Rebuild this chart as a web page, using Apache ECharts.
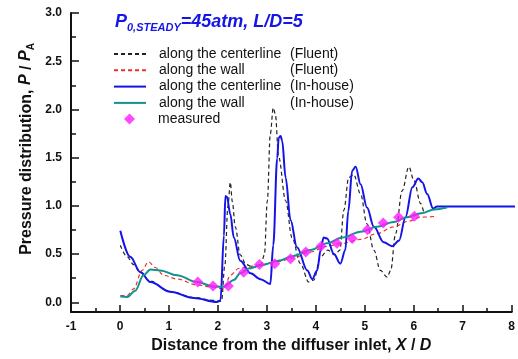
<!DOCTYPE html>
<html>
<head>
<meta charset="utf-8">
<script src="https://cdn.jsdelivr.net/npm/echarts@6/dist/echarts.min.js"></script>
<style>
  html, body { margin: 0; padding: 0; background: #fff; }
  .layer { position: absolute; left: 0; top: 0; width: 518px; height: 359px; }
  #axes { z-index: 2; }
  #app { z-index: 1; }
</style>
</head>
<body>
<div id="app" class="layer"></div>
<div id="axes" class="layer"></div>
<script>
// 中心线 (Fluent)
const centerFluentX = [0, 0.14, 0.27, 0.4, 0.6, 1.0, 1.5, 1.9, 2.05, 2.12, 2.18, 2.23, 2.27, 2.33, 2.43, 2.55, 2.7, 2.85, 2.92, 2.98, 3.04, 3.1, 3.14, 3.21, 3.35, 3.48, 3.65, 3.82, 3.92, 4.06, 4.2, 4.35, 4.45, 4.53, 4.63, 4.73, 4.87, 5.0, 5.14, 5.27, 5.41, 5.48, 5.58, 5.71, 5.85, 5.95, 6.09, 6.15];
const centerFluentY = [0.6, 0.48, 0.4, 0.32, 0.23, 0.12, 0.06, 0.03, 0.02, 0.4, 1.0, 1.25, 1.05, 0.79, 0.5, 0.4, 0.37, 0.4, 0.5, 1.06, 1.75, 2.02, 1.96, 1.51, 1.06, 0.68, 0.41, 0.22, 0.24, 0.48, 0.55, 0.5, 0.55, 0.96, 1.3, 1.33, 1.13, 0.82, 0.55, 0.34, 0.27, 0.34, 0.72, 1.16, 1.41, 1.27, 1.03, 0.94];
// 壁面 (Fluent)
const wallFluentX = [0, 0.14, 0.27, 0.44, 0.57, 0.71, 0.88, 1.15, 1.55, 1.83, 2.1, 2.23, 2.4, 2.6, 2.84, 3.2, 3.51, 3.85, 4.19, 4.5, 4.87, 5.2, 5.54, 5.85, 6.09, 6.42];
const wallFluentY = [0.08, 0.08, 0.15, 0.34, 0.43, 0.37, 0.29, 0.25, 0.19, 0.17, 0.15, 0.29, 0.36, 0.38, 0.4, 0.43, 0.47, 0.53, 0.59, 0.62, 0.66, 0.72, 0.79, 0.85, 0.89, 0.9];
// 中心线 (In-house)
const centerHouseX = [0, 0.2, 0.41, 0.61, 1.01, 1.49, 1.96, 2.03, 2.1, 2.13, 2.16, 2.23, 2.3, 2.43, 2.64, 2.84, 3.04, 3.1, 3.18, 3.21, 3.25, 3.28, 3.35, 3.45, 3.58, 3.79, 3.89, 3.99, 4.06, 4.12, 4.19, 4.33, 4.46, 4.56, 4.62, 4.7, 4.77, 4.87, 5.0, 5.14, 5.34, 5.51, 5.65, 5.78, 5.92, 6.04, 6.12, 6.22, 6.34, 6.42, 7.0, 8.0];
const centerHouseY = [0.75, 0.48, 0.32, 0.22, 0.12, 0.055, 0.013, 0.03, 0.7, 1.11, 1.1, 0.92, 0.68, 0.44, 0.31, 0.25, 0.2, 0.6, 1.5, 1.71, 1.73, 1.68, 1.3, 0.86, 0.58, 0.34, 0.25, 0.34, 0.55, 0.68, 0.67, 0.51, 0.41, 0.55, 0.95, 1.37, 1.41, 1.23, 0.99, 0.79, 0.63, 0.59, 0.65, 0.89, 1.2, 1.29, 1.25, 1.13, 0.98, 1.0, 1.0, 1.0];
// 壁面 (In-house)
const wallHouseX = [0, 0.14, 0.3, 0.47, 0.61, 0.81, 1.15, 1.55, 1.89, 2.1, 2.3, 2.43, 2.6, 2.84, 3.2, 3.51, 3.85, 4.19, 4.5, 4.87, 5.2, 5.54, 5.81, 6.1, 6.36, 6.62];
const wallHouseY = [0.07, 0.065, 0.13, 0.29, 0.35, 0.34, 0.29, 0.22, 0.175, 0.17, 0.24, 0.31, 0.36, 0.39, 0.44, 0.49, 0.55, 0.62, 0.68, 0.74, 0.79, 0.84, 0.89, 0.93, 0.97, 0.99];
// 实测
const measuredX = [1.57, 1.88, 2.19, 2.5, 2.82, 3.13, 3.45, 3.76, 4.07, 4.39, 4.7, 5.01, 5.33, 5.64, 5.96];
const measuredY = [0.22, 0.18, 0.18, 0.32, 0.4, 0.41, 0.46, 0.53, 0.59, 0.62, 0.67, 0.76, 0.83, 0.89, 0.9];

const seriesNames = [
  'along the centerline (Fluent)',
  'along the wall (Fluent)',
  'along the centerline (In-house)',
  'along the wall (In-house)',
  'measured'
];

const xRange = { min: -1, max: 8 };
const yRange = { min: -0.1, max: 3 };
const grid = { left: 71, right: 3, top: 13, bottom: 46 };
const font = 'Liberation Sans, Arial, sans-serif';

function pairs(xs, ys) {
  return xs.map((x, i) => [x, ys[i]]);
}

function lineSeries(name, xs, ys, color, width, dashed) {
  return {
    name,
    type: 'line',
    data: pairs(xs, ys),
    symbol: 'none',
    smooth: 0.35,
    smoothMonotone: 'x',
    lineStyle: { color, width, type: dashed ? [4, 3] : 'solid' },
    itemStyle: { color },
    silent: true
  };
}

/**
 * 下层：曲线、实测点、图例、标题
 */
const myChart = echarts.init(document.getElementById('app'));
myChart.setOption({
  animation: false,
  grid,
  legend: [
    {
      orient: 'vertical',
      left: 113,
      top: 47,
      padding: 0,
      itemWidth: 32,
      itemHeight: 11,
      itemGap: 2.3,
      data: seriesNames.slice(0, 4).map(name => ({ name, itemStyle: { opacity: 0 } })),
      formatter: name => {
        const k = name.indexOf(' (');
        return '{a|' + name.slice(0, k) + '}{b|' + name.slice(k + 1) + '}';
      },
      textStyle: {
        fontFamily: font,
        fontSize: 14,
        color: '#111',
        lineHeight: 14,
        padding: [0, 0, 0, 8],
        rich: {
          a: { fontFamily: font, fontSize: 14, width: 131, color: '#111' },
          b: { fontFamily: font, fontSize: 14, color: '#111' }
        }
      }
    },
    {
      orient: 'vertical',
      left: 124,
      top: 112,
      padding: 0,
      itemWidth: 11,
      itemHeight: 11,
      data: [{ name: seriesNames[4], icon: 'diamond' }],
      textStyle: { fontFamily: font, fontSize: 14, color: '#111', lineHeight: 14, padding: [0, 0, 0, 18] }
    }
  ],
  xAxis: { type: 'value', show: false, min: xRange.min, max: xRange.max },
  yAxis: { type: 'value', show: false, min: yRange.min, max: yRange.max },
  graphic: [
    {
      type: 'text',
      left: 115,
      top: 13,
      style: {
        text: '{p|P}{s|0,STEADY}{t|=45atm, L/D=5}',
        rich: {
          p: { fontFamily: font, fontSize: 18, fontWeight: 'bold', fontStyle: 'italic', fill: '#1515e6', lineHeight: 20, verticalAlign: 'top' },
          s: { fontFamily: font, fontSize: 11, fontWeight: 'bold', fontStyle: 'italic', fill: '#1515e6', lineHeight: 12, verticalAlign: 'bottom' },
          t: { fontFamily: font, fontSize: 18, fontWeight: 'bold', fontStyle: 'italic', fill: '#1515e6', lineHeight: 20, verticalAlign: 'top' }
        }
      }
    },
    {
      type: 'text',
      x: 27,
      y: 149,
      rotation: Math.PI / 2,
      style: {
        text: 'Pressure distribution, {i|P} / {i|P}{s|A}',
        align: 'center',
        verticalAlign: 'middle',
        fontFamily: font,
        fontSize: 16,
        fontWeight: 'bold',
        fill: '#111',
        rich: {
          i: { fontFamily: font, fontSize: 16, fontWeight: 'bold', fontStyle: 'italic', fill: '#111', lineHeight: 18, verticalAlign: 'top' },
          s: { fontFamily: font, fontSize: 10, fontWeight: 'bold', fill: '#111', lineHeight: 10, verticalAlign: 'bottom' }
        }
      }
    }
  ],
  series: [
    lineSeries(seriesNames[0], centerFluentX, centerFluentY, '#222', 1.2, true),
    lineSeries(seriesNames[1], wallFluentX, wallFluentY, '#e8322e', 1.2, true),
    lineSeries(seriesNames[2], centerHouseX, centerHouseY, '#1414e8', 2, false),
    lineSeries(seriesNames[3], wallHouseX, wallHouseY, '#13918c', 2, false),
    {
      name: seriesNames[4],
      type: 'scatter',
      data: pairs(measuredX, measuredY),
      symbol: 'diamond',
      symbolSize: 11,
      itemStyle: { color: '#ff1aff' },
      z: 5,
      silent: true
    }
  ]
});

/**
 * 上层：坐标轴（线、刻度、标签、X轴名称），透明背景
 */
const axisStroke = { color: '#111', width: 2 };
const tickStroke = { color: '#111', width: 1.5 };
const axesOption = {
  animation: false,
  backgroundColor: 'transparent',
  grid,
  xAxis: {
    type: 'value',
    min: xRange.min,
    max: xRange.max,
    interval: 1,
    name: 'Distance from the diffuser inlet, {i|X} / {i|D}',
    nameLocation: 'middle',
    nameGap: 26,
    nameTextStyle: {
      fontFamily: font, fontSize: 16, fontWeight: 'bold', color: '#111',
      rich: { i: { fontFamily: font, fontSize: 16, fontWeight: 'bold', fontStyle: 'italic', color: '#111' } }
    },
    splitLine: { show: false },
    axisLine: { show: true, onZero: false, lineStyle: axisStroke },
    axisTick: { show: true, inside: true, length: 7, lineStyle: tickStroke },
    minorTick: { show: true, splitNumber: 2, length: 4, lineStyle: tickStroke },
    axisLabel: { margin: 9, fontFamily: font, fontSize: 12, fontWeight: 'bold', color: '#111' }
  },
  yAxis: {
    type: 'value',
    min: yRange.min,
    max: yRange.max,
    splitNumber: 6,
    splitLine: { show: false },
    axisLine: { show: true, onZero: false, lineStyle: axisStroke },
    axisTick: { show: true, inside: true, length: 8, lineStyle: tickStroke },
    minorTick: { show: true, splitNumber: 2, length: 5, lineStyle: tickStroke },
    axisLabel: {
      margin: 9, showMinLabel: false, formatter: v => v.toFixed(1),
      fontFamily: font, fontSize: 12, fontWeight: 'bold', color: '#111'
    }
  },
  series: [{
    type: 'scatter',
    data: pairs(measuredX, measuredY),
    symbolSize: 1,
    itemStyle: { opacity: 0 },
    silent: true
  }]
};
const axesChart = echarts.init(document.getElementById('axes'));
axesChart.setOption(axesOption);
axesChart.clear();
axesChart.setOption(axesOption, true);
</script>
</body>
</html>
